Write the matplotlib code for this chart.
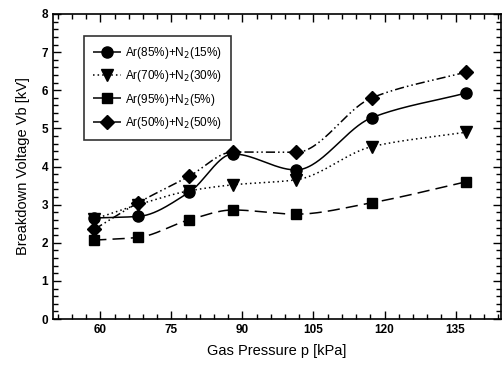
import matplotlib
matplotlib.use('Agg')
import matplotlib.pyplot as plt
import numpy as np
from matplotlib.ticker import MultipleLocator

plt.rcParams['font.family'] = ['Liberation Sans', 'DejaVu Sans']

# Gas pressure (kPa) and breakdown voltage (kV) for each gas mixture
pressure = [58.7, 68.0, 78.7, 88.0, 101.3, 117.3, 137.3]
vb_ar85 = [2.65, 2.69, 3.32, 4.33, 3.91, 5.28, 5.93]
vb_ar70 = [2.62, 3.00, 3.36, 3.52, 3.65, 4.52, 4.90]
vb_ar95 = [2.07, 2.14, 2.60, 2.86, 2.75, 3.05, 3.60]
vb_ar50 = [2.35, 3.05, 3.74, 4.38, 4.37, 5.80, 6.48]

labels = ['Ar(85%)+N$_2$(15%)', 'Ar(70%)+N$_2$(30%)',
          'Ar(95%)+N$_2$(5%)', 'Ar(50%)+N$_2$(50%)']


def smooth(x, y, n=300):
    # monotone cubic (PCHIP) curve through the measured points
    x = np.asarray(x, float)
    y = np.asarray(y, float)
    h = np.diff(x)
    d = np.diff(y) / h
    m = np.zeros_like(y)
    for i in range(1, len(x) - 1):
        if d[i - 1] * d[i] > 0:
            w1 = 2 * h[i] + h[i - 1]
            w2 = h[i] + 2 * h[i - 1]
            m[i] = (w1 + w2) / (w1 / d[i - 1] + w2 / d[i])
    m[0] = d[0]
    m[-1] = d[-1]
    xs = np.linspace(x[0], x[-1], n)
    k = np.clip(np.searchsorted(x, xs) - 1, 0, len(x) - 2)
    t = (xs - x[k]) / h[k]
    h00 = 2 * t ** 3 - 3 * t ** 2 + 1
    h10 = t ** 3 - 2 * t ** 2 + t
    h01 = -2 * t ** 3 + 3 * t ** 2
    h11 = t ** 3 - t ** 2
    ys = h00 * y[k] + h10 * h[k] * m[k] + h01 * y[k + 1] + h11 * h[k] * m[k + 1]
    return xs, ys


fig = plt.figure(figsize=(5.04, 3.70), dpi=100)
ax = fig.add_axes([53 / 504, 1 - 319 / 370, 448 / 504, 305 / 370])

series = [
    (vb_ar85, 'o', (0, ()), 8),
    (vb_ar70, 'v', (0, (1, 2)), 8.5),
    (vb_ar95, 's', (0, (8, 4)), 7.5),
    (vb_ar50, 'D', (0, (6, 2, 1, 2, 1, 2)), 7),
]

for (vb, mk, ls, ms), lab in zip(series, labels):
    xs, ys = smooth(pressure, vb)
    ax.plot(xs, ys, color='black', linestyle=ls, linewidth=1.1)
    ax.plot(pressure, vb, linestyle='none', marker=mk, markersize=ms,
            color='black')
    ax.plot([], [], color='black', linestyle=ls, linewidth=1.1, marker=mk,
            markersize=ms, label=lab)

ax.set_xlim(50, 144.6)
ax.set_ylim(0, 8)
ax.xaxis.set_major_locator(MultipleLocator(15))
ax.xaxis.set_minor_locator(MultipleLocator(3))
ax.yaxis.set_major_locator(MultipleLocator(1))
ax.yaxis.set_minor_locator(MultipleLocator(0.2))
ax.tick_params(which='both', direction='in', top=True, right=True,
               labelsize=8.5, width=1)
ax.tick_params(which='major', length=6)
ax.tick_params(which='minor', length=3.5)
for lab in ax.get_xticklabels() + ax.get_yticklabels():
    lab.set_fontweight('bold')
for sp in ax.spines.values():
    sp.set_linewidth(1.2)

ax.set_xlabel('Gas Pressure p [kPa]', fontsize=10.5, labelpad=6)
ax.set_ylabel('Breakdown Voltage Vb [kV]', fontsize=10.5, labelpad=8)

leg = ax.legend(loc='upper left', bbox_to_anchor=(0.069, 0.928), fontsize=8.5,
                frameon=True, fancybox=False, handlelength=2.3,
                handletextpad=0.4, labelspacing=0.6, borderpad=0.8,
                borderaxespad=0)
leg.get_frame().set_edgecolor('black')
leg.get_frame().set_linewidth(1.2)

fig.savefig('out.png', dpi=100)
